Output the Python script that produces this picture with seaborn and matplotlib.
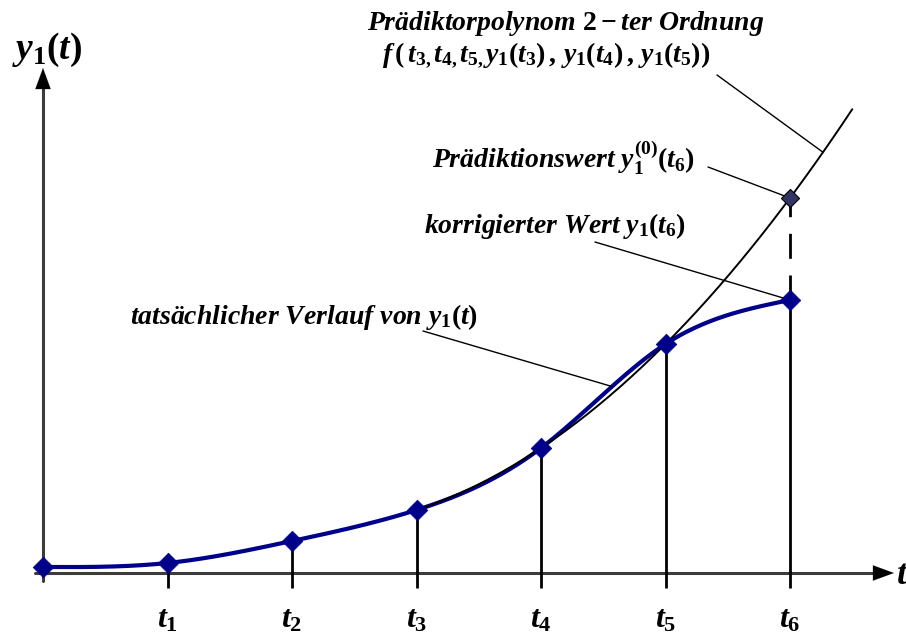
import numpy as np
import pandas as pd
import matplotlib
matplotlib.use("Agg")
import matplotlib.pyplot as plt
import seaborn as sns

# Sampling instants and measured values of y1(t)
t_points = [0, 1, 2, 3, 4, 5, 6]
y_actual = [0.06, 0.10, 0.32, 0.63, 1.25, 2.29, 2.73]
t_labels = ["$t_1$", "$t_2$", "$t_3$", "$t_4$", "$t_5$", "$t_6$"]
# Support points of the 2nd-order predictor polynomial
fit_idx = [3, 4, 5]
poly_end = 6.5

sns.set_theme(style="white")
plt.rcParams["font.family"] = ["Liberation Serif", "DejaVu Serif"]
plt.rcParams["text.color"] = "black"
plt.rcParams["mathtext.fontset"] = "custom"
plt.rcParams["mathtext.rm"] = "Liberation Serif:style=normal:weight=bold"
plt.rcParams["mathtext.it"] = "Liberation Serif:style=italic:weight=bold"
plt.rcParams["mathtext.bf"] = "Liberation Serif:style=normal:weight=bold"
plt.rcParams["mathtext.default"] = "it"

W, H = 906, 632
fig = plt.figure(figsize=(W / 100, H / 100), dpi=100)
ax = fig.add_axes([0, 0, 1, 1])

# Pixel layout helpers: origin of the diagram and scales
x0px, y0px, dxpx, dypx = 43, 573, 124.5, 100.0
def X(px):
    return (px - x0px) / dxpx
def Y(py):
    return (y0px - py) / dypx

ax.set_xlim(X(0), X(W))
ax.set_ylim(Y(H), Y(0))
ax.axis("off")

t = np.array(t_points, float)
y = np.array(y_actual, float)

# Natural cubic spline through the samples (smooth actual course)
def natural_spline(x, v, xs):
    n = len(x)
    h = np.diff(x)
    A = np.zeros((n, n))
    b = np.zeros(n)
    A[0, 0] = A[-1, -1] = 1
    for i in range(1, n - 1):
        A[i, i - 1] = h[i - 1]
        A[i, i] = 2 * (h[i - 1] + h[i])
        A[i, i + 1] = h[i]
        b[i] = 3 * ((v[i + 1] - v[i]) / h[i] - (v[i] - v[i - 1]) / h[i - 1])
    c = np.linalg.solve(A, b)
    out = np.empty_like(xs)
    for k, xv in enumerate(xs):
        i = min(max(np.searchsorted(x, xv) - 1, 0), n - 2)
        bb = (v[i + 1] - v[i]) / h[i] - h[i] * (2 * c[i] + c[i + 1]) / 3
        d = (c[i + 1] - c[i]) / (3 * h[i])
        s = xv - x[i]
        out[k] = v[i] + bb * s + c[i] * s ** 2 + d * s ** 3
    return out

ts = np.linspace(t[0], t[-1], 400)
curve = pd.DataFrame({"t": ts, "y": natural_spline(t, y, ts)})

# Predictor polynomial through (t3,t4,t5)
coef = np.polyfit(t[fit_idx], y[fit_idx], 2)
tp = np.linspace(t[fit_idx[0]], poly_end, 200)
poly = pd.DataFrame({"t": tp, "y": np.polyval(coef, tp)})
y_pred = np.polyval(coef, t[-1])

axis_col = "#3c3c3c"
navy = "#00008b"

# Axes with arrow heads
ax.plot([X(35), X(893) - 0.1], [0, 0], color=axis_col, lw=2.2, zorder=2)
ax.plot([0, 0], [Y(581), Y(70) - 0.1], color=axis_col, lw=2.2, zorder=2)
ax.annotate("", xy=(X(894), 0), xytext=(X(872), 0),
            arrowprops=dict(arrowstyle="-|>,head_length=1.5,head_width=0.55",
                            mutation_scale=10, color="black", lw=0.1, shrinkA=0, shrinkB=0))
ax.annotate("", xy=(0, Y(68)), xytext=(0, Y(92)),
            arrowprops=dict(arrowstyle="-|>,head_length=1.5,head_width=0.55",
                            mutation_scale=10, color="black", lw=0.1, shrinkA=0, shrinkB=0))

# Vertical lines at the sampling instants
tick_bottom = Y(588)
ax.vlines(t[1:], tick_bottom, y[1:], color="black", lw=2.0, zorder=2)
ax.plot([t[-1], t[-1]], [y[-1], y_pred], color="black", lw=2.0,
        dashes=(9, 6), zorder=2)

# Predictor polynomial and actual course
sns.lineplot(data=poly, x="t", y="y", ax=ax, color="black", lw=1.4, zorder=4,
             estimator=None, sort=False)
sns.lineplot(data=curve, x="t", y="y", ax=ax, color=navy, lw=3.0, zorder=3,
             estimator=None, sort=False)
pts = pd.DataFrame({"t": t, "y": y})
sns.scatterplot(data=pts, x="t", y="y", ax=ax, marker="D", s=110, color=navy,
                edgecolor=navy, linewidth=0.5, zorder=5)
ax.scatter([t[-1]], [y_pred], marker="D", s=85, color="#333366",
           edgecolor="black", linewidth=0.8, zorder=6)

# Axis labels
ax.text(X(12), Y(50), "$y_1(t)$", fontsize=27, ha="left", va="center")
ax.text(X(896), Y(576), "$t$", fontsize=26, ha="left", va="center")
for ti, lab in zip(t[1:], t_labels):
    ax.text(ti, Y(620), lab, fontsize=23, ha="center", va="center")

# Annotations with leader lines
txt_kw = dict(fontsize=20, fontweight="bold", fontstyle="italic")
ax.text(X(566), Y(24), "Prädiktorpolynom $2-$ter Ordnung", ha="center", va="center", **txt_kw)
ax.text(X(546), Y(55),
        r"$f\,(\,t_{3,}t_{4,}t_{5,}y_1(t_3)\,,\,y_1(t_4)\,,\,y_1(t_5))$",
        ha="center", va="center", **txt_kw)
tl = X(823)
ax.annotate("", xy=(tl, np.polyval(coef, tl)), xytext=(X(717), Y(75)),
            arrowprops=dict(arrowstyle="-", color="black", lw=1.0, shrinkA=0, shrinkB=0))

ax.text(X(432), Y(158), r"Prädiktionswert $y_1^{(0)}(t_6)$", ha="left", va="center", **txt_kw)
ax.annotate("", xy=(t[-1], y_pred), xytext=(X(708), Y(167)),
            arrowprops=dict(arrowstyle="-", color="black", lw=1.0, shrinkA=0, shrinkB=5))

ax.text(X(424), Y(226), r"korrigierter Wert $y_1(t_6)$", ha="left", va="center", **txt_kw)
ax.annotate("", xy=(t[-1], y[-1]), xytext=(X(595), Y(242)),
            arrowprops=dict(arrowstyle="-", color="black", lw=1.0, shrinkA=0, shrinkB=5))

ax.text(X(130), Y(317), r"tatsächlicher Verlauf von $y_1(t)$", ha="left", va="center", **txt_kw)
tv = X(612)
ax.annotate("", xy=(tv, natural_spline(t, y, np.array([tv]))[0]), xytext=(X(423), Y(331)),
            arrowprops=dict(arrowstyle="-", color="black", lw=1.0, shrinkA=0, shrinkB=0))

fig.savefig("out.png", dpi=100)
